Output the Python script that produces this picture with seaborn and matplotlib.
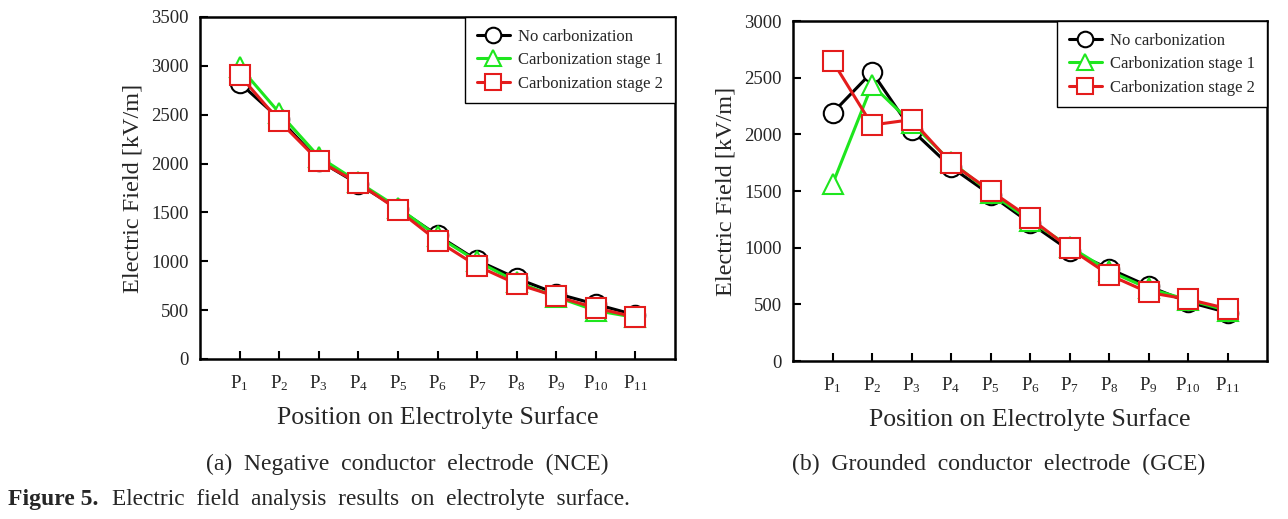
import numpy as np
import pandas as pd
import matplotlib
matplotlib.use('Agg')
import matplotlib.pyplot as plt
import seaborn as sns

# positions P1..P11
positions = np.arange(1, 12)
pos_labels = [r'P$_{%d}$' % i for i in positions]

# (a) negative conductor electrode, kV/m
nce_none = [2825, 2460, 2030, 1790, 1540, 1265, 1010, 825, 670, 560, 450]
nce_stage1 = [2990, 2520, 2070, 1810, 1550, 1255, 1000, 790, 635, 495, 425]
nce_stage2 = [2905, 2436, 2027, 1800, 1525, 1208, 952, 768, 640, 522, 428]

# (b) grounded conductor electrode, kV/m
gce_none = [2189, 2550, 2040, 1712, 1467, 1218, 975, 815, 660, 521, 428]
gce_stage1 = [1560, 2436, 2100, 1760, 1485, 1240, 1010, 795, 640, 540, 445]
gce_stage2 = [2648, 2083, 2130, 1748, 1502, 1262, 995, 760, 605, 545, 462]

series_names = ['No carbonization', 'Carbonization stage 1', 'Carbonization stage 2']
colors = ['black', '#1ee61e', '#e41c1c']
markers = ['o', '^', 's']

sns.set_style('ticks')
plt.rcParams['font.family'] = ['Liberation Serif', 'DejaVu Serif']
plt.rcParams['mathtext.fontset'] = 'custom'
plt.rcParams['mathtext.rm'] = 'Liberation Serif'
plt.rcParams['mathtext.it'] = 'Liberation Serif:italic'

fig = plt.figure(figsize=(12.88, 5.19), dpi=100)
ax1 = fig.add_axes([0.1553, 0.3083, 0.3688, 0.659])
ax2 = fig.add_axes([0.6157, 0.3044, 0.3680, 0.655])


def draw_panel(ax, data, ymax):
    for vals, name, c, m in zip(data, series_names, colors, markers):
        df = pd.DataFrame({'pos': positions, 'field': vals})
        sns.lineplot(data=df, x='pos', y='field', ax=ax, color=c, marker=m,
                     markersize=14, markerfacecolor='white', markeredgecolor=c,
                     markeredgewidth=1.5, linewidth=2.2, label=name)
    ax.set_xlim(0, 12)
    ax.set_ylim(0, ymax)
    ax.set_xticks(positions)
    ax.set_xticklabels(pos_labels, fontsize=13)
    ax.set_yticks(np.arange(0, ymax + 1, 500))
    ax.tick_params(axis='both', direction='in', length=6, width=1.5, labelsize=13.5,
                   color='black')
    ax.tick_params(axis='x', pad=10)
    ax.tick_params(axis='y', pad=8)
    for s in ax.spines.values():
        s.set_linewidth(1.8)
        s.set_color('black')
    ax.set_xlabel('Position on Electrolyte Surface', fontsize=18.5, labelpad=10)
    ax.set_ylabel('Electric Field [kV/m]', fontsize=17.5, labelpad=6)
    leg = ax.legend(loc='upper right', borderaxespad=0, fontsize=12, fancybox=False,
                    framealpha=1, edgecolor='black', handlelength=2.0,
                    handletextpad=0.5, borderpad=0.7, labelspacing=0.45,
                    markerscale=0.8)
    leg.get_frame().set_linewidth(1.0)


draw_panel(ax1, [nce_none, nce_stage1, nce_stage2], 3500)
draw_panel(ax2, [gce_none, gce_stage1, gce_stage2], 3000)

fig.text(0.3165, 0.095, '(a)  Negative  conductor  electrode  (NCE)', ha='center',
         fontsize=17)
fig.text(0.7755, 0.095, '(b)  Grounded  conductor  electrode  (GCE)', ha='center',
         fontsize=17)
fig.text(0.006, 0.027, 'Figure 5.', fontsize=17, fontweight='bold')
fig.text(0.087, 0.027, 'Electric  field  analysis  results  on  electrolyte  surface.',
         fontsize=16.8)

fig.savefig('out.png', dpi=100)
